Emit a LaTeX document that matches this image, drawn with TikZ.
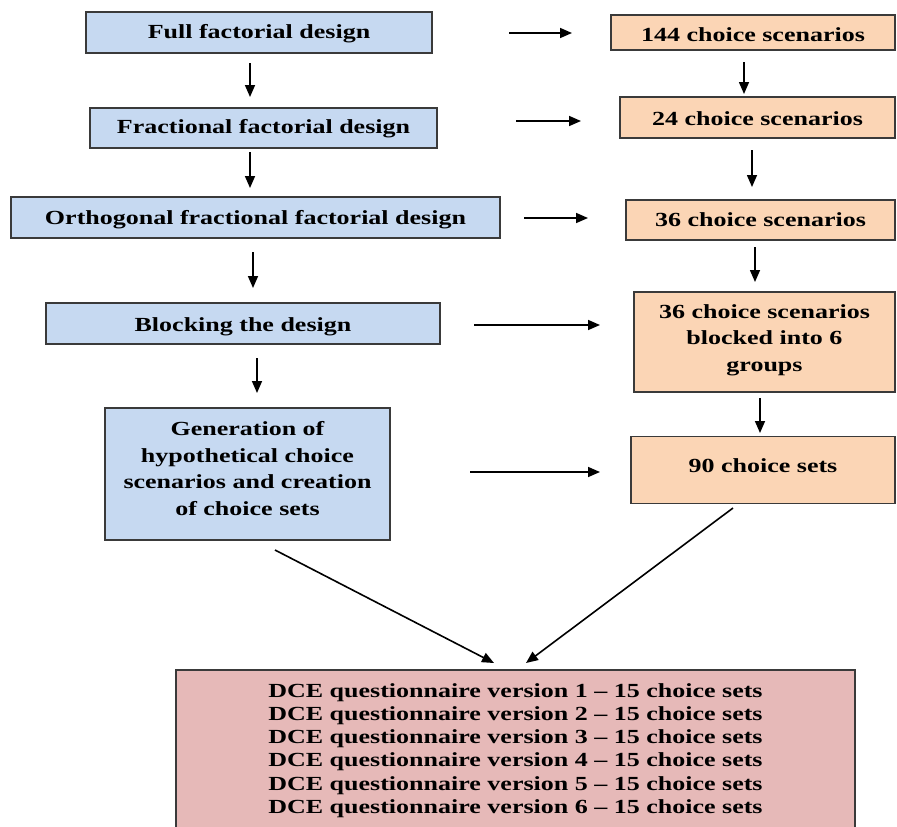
\documentclass[tikz,border=0pt]{standalone}
\usepackage{fontspec}
\setmainfont{Liberation Serif}
\newfontfamily\wideserif[FakeStretch=1.3]{Liberation Serif}
\usetikzlibrary{arrows.meta}
\definecolor{boxblue}{HTML}{C6D9F1}
\definecolor{boxpeach}{HTML}{FBD5B5}
\definecolor{boxpink}{HTML}{E6B9B8}
\definecolor{boxline}{HTML}{3A3A3A}
\begin{document}
\begin{tikzpicture}[x=1pt,y=-1pt,
  box/.style={draw=boxline, line width=1.3pt, inner sep=0pt},
  bluebox/.style={box, fill=boxblue},
  peachbox/.style={box, fill=boxpeach},
  pinkbox/.style={box, fill=boxpink},
  tl/.style={inner sep=0pt, text height=13pt, text depth=0pt,
    font=\wideserif\bfseries\fontsize{20}{26.6}\selectfont},
  tm/.style={inner sep=0pt, align=center,
    font=\wideserif\bfseries\fontsize{20}{26.6}\selectfont},
  td/.style={inner sep=0pt, align=center,
    font=\wideserif\bfseries\fontsize{20}{23.3}\selectfont},
  arr/.style={-{Triangle[length=12pt,width=10pt]}, line width=1.6pt}]
\useasboundingbox (0,0) rectangle (897,827);
\clip (0,0) rectangle (897,827);
% left column
\node[bluebox, minimum width=346pt, minimum height=41pt,
  label={[tl,yshift=1pt]center:Full factorial design}] (L1) at (259,32.5) {};
\node[bluebox, minimum width=347pt, minimum height=40pt,
  label={[tl,yshift=1pt]center:Fractional factorial design}] (L2) at (263.5,128) {};
\node[bluebox, minimum width=489pt, minimum height=41pt,
  label={[tl,yshift=0pt]center:Orthogonal fractional factorial design}] (L3) at (255.5,217.5) {};
\node[bluebox, minimum width=394pt, minimum height=41pt,
  label={[tl,yshift=-1pt]center:Blocking the design}] (L4) at (243,323.5) {};
\node[bluebox, minimum width=285pt, minimum height=132pt,
  label={[tm,yshift=5.5pt]center:Generation of\\hypothetical choice\\scenarios and creation\\of choice sets}] (L5) at (247.5,474) {};
% right column
\node[peachbox, minimum width=284pt, minimum height=35pt,
  label={[tl,yshift=-2pt]center:144 choice scenarios}] (R1) at (753,32.5) {};
\node[peachbox, minimum width=275pt, minimum height=41pt,
  label={[tl,yshift=-1pt]center:24 choice scenarios}] (R2) at (757.5,117.5) {};
\node[peachbox, minimum width=269pt, minimum height=40pt,
  label={[tl,yshift=0.5pt]center:36 choice scenarios}] (R3) at (760.5,220) {};
\node[peachbox, minimum width=261pt, minimum height=100pt,
  label={[tm,yshift=2pt]center:36 choice scenarios\\blocked into 6\\groups}] (R4) at (764.5,342) {};
\node[peachbox, minimum width=264pt, minimum height=67pt,
  label={[tl,yshift=4.5pt]center:90 choice sets}] (R5) at (763,470) {};
% bottom
\node[pinkbox, minimum width=679pt, minimum height=166pt,
  label={[td,yshift=2.5pt]center:DCE questionnaire version 1 \textendash\ 15 choice sets\\
   DCE questionnaire version 2 \textendash\ 15 choice sets\\
   DCE questionnaire version 3 \textendash\ 15 choice sets\\
   DCE questionnaire version 4 \textendash\ 15 choice sets\\
   DCE questionnaire version 5 \textendash\ 15 choice sets\\
   DCE questionnaire version 6 \textendash\ 15 choice sets}] (B) at (515.5,753) {};
% arrow end points
\coordinate (h1s) at (509,33);  \coordinate (h1e) at (572,33);
\coordinate (h2s) at (516,121); \coordinate (h2e) at (581,121);
\coordinate (h3s) at (524,218); \coordinate (h3e) at (588,218);
\coordinate (h4s) at (474,325); \coordinate (h4e) at (600,325);
\coordinate (h5s) at (470,472); \coordinate (h5e) at (600,472);
\coordinate (v1s) at (250,63);  \coordinate (v1e) at (250,97);
\coordinate (v2s) at (250,152); \coordinate (v2e) at (250,188);
\coordinate (v3s) at (253,252); \coordinate (v3e) at (253,288);
\coordinate (v4s) at (257,358); \coordinate (v4e) at (257,393);
\coordinate (w1s) at (744,62);  \coordinate (w1e) at (744,94);
\coordinate (w2s) at (752,150); \coordinate (w2e) at (752,187);
\coordinate (w3s) at (755,247); \coordinate (w3e) at (755,282);
\coordinate (w4s) at (760,398); \coordinate (w4e) at (760,433);
\coordinate (d1s) at (275,550); \coordinate (d1e) at (494,663);
\coordinate (d2s) at (733,508); \coordinate (d2e) at (526,663);
\foreach \a in {h1,h2,h3,h4,h5,v1,v2,v3,v4,w1,w2,w3,w4,d1,d2}
  \draw[arr] (\a s) -- (\a e);
\end{tikzpicture}
\end{document}
